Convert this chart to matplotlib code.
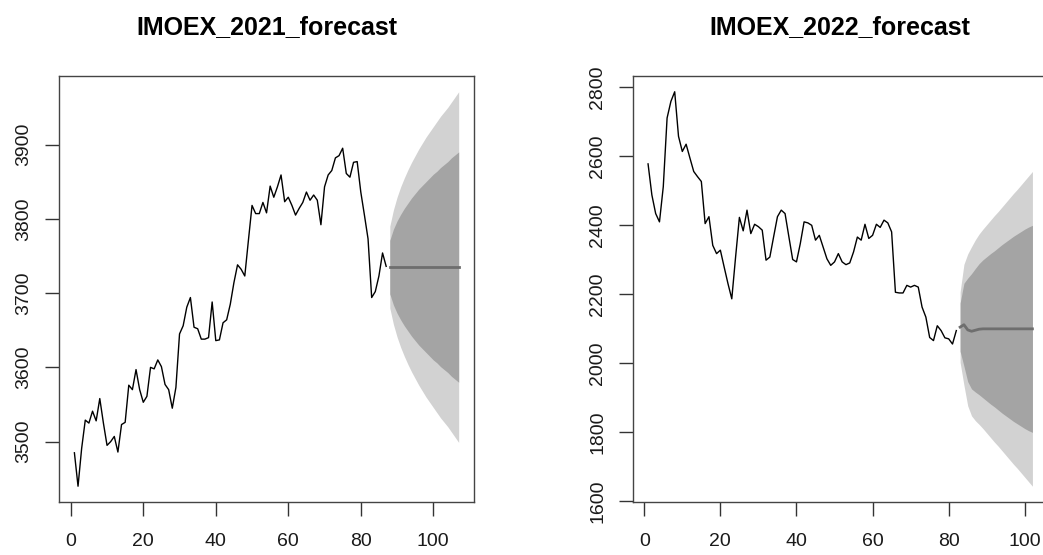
import matplotlib
import matplotlib.pyplot as plt

matplotlib.use('Agg')

plt.rcParams['font.family'] = ['Liberation Sans', 'DejaVu Sans']

# IMOEX 2021: history and 20-step forecast
hist_2021 = [3485, 3440, 3491, 3529, 3525, 3541, 3528, 3558, 3525, 3495,
             3500, 3507, 3486, 3523, 3526, 3576, 3570, 3597, 3570, 3553,
             3561, 3600, 3598, 3610, 3601, 3577, 3570, 3545, 3573, 3645,
             3656, 3681, 3694, 3654, 3652, 3638, 3638, 3640, 3688, 3636,
             3637, 3660, 3664, 3685, 3714, 3738, 3732, 3723, 3771, 3818,
             3807, 3807, 3822, 3808, 3844, 3829, 3843, 3859, 3823, 3829,
             3818, 3805, 3814, 3822, 3836, 3825, 3832, 3825, 3792, 3843,
             3859, 3865, 3882, 3885, 3895, 3861, 3856, 3876, 3877, 3836,
             3805, 3773, 3694, 3702, 3723, 3754, 3736]
mean_2021 = [3735] * 20
hi80_2021 = [3771, 3786, 3797, 3806, 3814, 3821, 3828, 3834, 3840, 3845,
             3850, 3855, 3860, 3864, 3869, 3873, 3877, 3882, 3886, 3890]
lo80_2021 = [3699, 3684, 3673, 3664, 3656, 3649, 3642, 3636, 3630, 3625,
             3620, 3615, 3610, 3606, 3601, 3597, 3593, 3588, 3584, 3580]
hi95_2021 = [3790, 3812, 3829, 3843, 3855, 3866, 3876, 3885, 3894, 3902,
             3910, 3917, 3924, 3931, 3938, 3944, 3950, 3957, 3964, 3971]
lo95_2021 = [3680, 3658, 3641, 3627, 3615, 3604, 3594, 3585, 3576, 3568,
             3560, 3553, 3546, 3539, 3532, 3526, 3520, 3513, 3506, 3499]

# IMOEX 2022: history and 20-step forecast
hist_2022 = [2578, 2488, 2434, 2410, 2512, 2711, 2759, 2787, 2658, 2614,
             2635, 2595, 2556, 2541, 2527, 2405, 2425, 2342, 2318, 2328,
             2279, 2231, 2187, 2308, 2423, 2384, 2444, 2376, 2403, 2396,
             2386, 2299, 2308, 2367, 2425, 2444, 2434, 2367, 2301, 2294,
             2347, 2410, 2407, 2400, 2357, 2371, 2337, 2303, 2284, 2294,
             2318, 2294, 2286, 2291, 2323, 2366, 2357, 2403, 2362, 2371,
             2403, 2394, 2415, 2407, 2381, 2206, 2204, 2204, 2226, 2221,
             2226, 2221, 2163, 2134, 2075, 2066, 2109, 2095, 2074, 2071,
             2056, 2095]
mean_2022 = [2105, 2112, 2097, 2093, 2096, 2099, 2100, 2100, 2100, 2100,
             2100, 2100, 2100, 2100, 2100, 2100, 2100, 2100, 2100, 2100]
hi80_2022 = [2175, 2232, 2247, 2260, 2275, 2289, 2300, 2309, 2318, 2326,
             2335, 2344, 2352, 2360, 2368, 2375, 2382, 2389, 2395, 2400]
lo80_2022 = [2035, 1992, 1947, 1926, 1917, 1909, 1900, 1891, 1882, 1874,
             1865, 1856, 1848, 1840, 1832, 1825, 1818, 1811, 1805, 1800]
hi95_2022 = [2207, 2287, 2317, 2338, 2358, 2375, 2389, 2402, 2415, 2428,
             2440, 2453, 2466, 2479, 2492, 2504, 2517, 2530, 2543, 2556]
lo95_2022 = [2003, 1937, 1877, 1848, 1834, 1823, 1811, 1798, 1785, 1772,
             1760, 1747, 1734, 1721, 1708, 1696, 1683, 1670, 1657, 1644]


def plot_forecast(ax, title, hist, mean, lo80, hi80, lo95, hi95, yticks):
    n = len(hist)
    t_hist = list(range(1, n + 1))
    t_fc = list(range(n + 1, n + 1 + len(mean)))
    ax.fill_between(t_fc, lo95, hi95, color='#d2d2d2', lw=0)
    ax.fill_between(t_fc, lo80, hi80, color='#a4a4a4', lw=0)
    ax.plot(t_hist, hist, color='black', lw=1.0)
    ax.plot(t_fc, mean, color='#6e6e6e', lw=2.0)
    ax.margins(x=0.04, y=0.04)
    ax.set_xticks([0, 20, 40, 60, 80, 100])
    ax.set_yticks(yticks)
    ax.tick_params(axis='both', direction='out', length=10, width=1.0,
                   color='#333333', labelsize=14, labelcolor='#1a1a1a')
    ax.tick_params(axis='x', pad=12)
    ax.tick_params(axis='y', pad=9)
    for lbl in ax.get_yticklabels():
        lbl.set_rotation(90)
        lbl.set_va('center')
    for s in ax.spines.values():
        s.set_color('#444444')
        s.set_linewidth(1.0)
    ax.set_title(title, fontsize=18, fontweight='bold', pad=30)


fig = plt.figure(figsize=(10.43, 5.55), dpi=100)
ax1 = fig.add_axes([0.0566, 0.0955, 0.3979, 0.7676])
ax2 = fig.add_axes([0.6066, 0.0955, 0.3980, 0.7676])

plot_forecast(ax1, 'IMOEX_2021_forecast', hist_2021, mean_2021,
              lo80_2021, hi80_2021, lo95_2021, hi95_2021,
              [3500, 3600, 3700, 3800, 3900])
plot_forecast(ax2, 'IMOEX_2022_forecast', hist_2022, mean_2022,
              lo80_2022, hi80_2022, lo95_2022, hi95_2022,
              [1600, 1800, 2000, 2200, 2400, 2600, 2800])

fig.savefig('out.png', dpi=100)
